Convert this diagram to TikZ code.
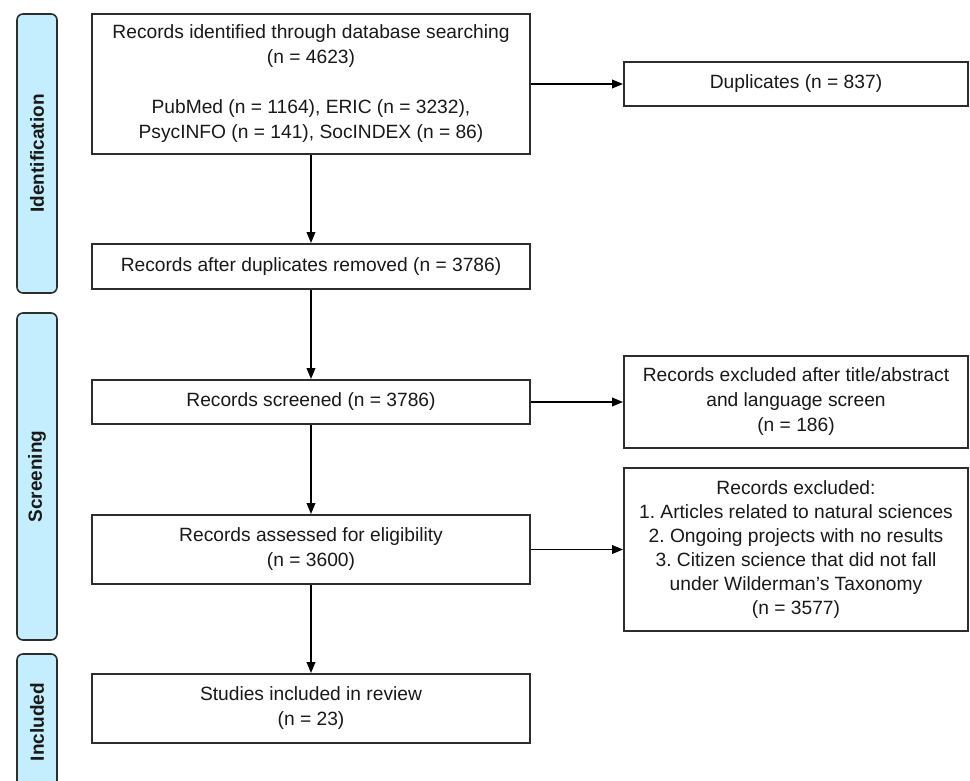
\documentclass[tikz,border=0pt]{standalone}
\usepackage{fontspec}
\setmainfont{Liberation Sans}
\usetikzlibrary{arrows.meta}
\frenchspacing
\definecolor{barfill}{RGB}{196,238,253}
\definecolor{boxline}{RGB}{45,45,45}
\definecolor{txt}{RGB}{25,25,25}
\tikzset{
  flowbox/.style={draw=boxline, line width=1.8pt, fill=white, align=center, text=txt,
    font=\fontsize{19.2}{25}\selectfont, inner sep=0pt, anchor=center},
  phasebar/.style={draw=boxline, line width=1.6pt, fill=barfill, rounded corners=6pt},
  phaselabel/.style={rotate=90, font=\fontsize{19}{22}\selectfont\bfseries, text=txt},
  arr/.style={draw=black, line width=1.9pt, -{Triangle[length=11pt,width=8.5pt]}}
}
\begin{document}
\begin{tikzpicture}[x=1pt,y=-1pt]
\clip (0,0) rectangle (970,780);
\fill[white] (0,0) rectangle (970,780);
% phase bars
\draw[phasebar] (17,14) rectangle (57,293);
\node[phaselabel] (lid) at (37,153.5) {Identification};
\draw[phasebar] (17,313) rectangle (57,640);
\node[phaselabel] (lscr) at (37,476.5) {Screening};
\draw[phasebar] (17,654) rectangle (57,792);
\node[phaselabel] (linc) at (37,722) {Included};
% boxes
\node[flowbox, minimum width=438pt, minimum height=140pt] (id) at (311,84)
  {Records identified through database searching\\(n = 4623)\\[25pt]PubMed (n = 1164), ERIC (n = 3232),\\PsycINFO (n = 141), SocINDEX (n = 86)};
\node[flowbox, minimum width=344pt, minimum height=44pt] (dup) at (796,84) {Duplicates (n = 837)};
\node[flowbox, minimum width=438pt, minimum height=45pt] (after) at (311,266.5) {Records after duplicates removed (n = 3786)};
\node[flowbox, minimum width=438pt, minimum height=44pt] (scr) at (311,402) {Records screened (n = 3786)};
\node[flowbox, minimum width=344pt, minimum height=92pt] (ex1) at (796,402)
  {Records excluded after title/abstract\\and language screen\\(n = 186)};
\node[flowbox, minimum width=438pt, minimum height=69pt] (elig) at (311,549.5)
  {Records assessed for eligibility\\(n = 3600)};
\node[flowbox, minimum width=344pt, minimum height=163pt, font=\fontsize{19.2}{24}\selectfont] (ex2) at (796,549.5)
  {Records excluded:\\1. Articles related to natural sciences\\2. Ongoing projects with no results\\3. Citizen science that did not fall\\under Wilderman’s Taxonomy\\(n = 3577)};
\node[flowbox, minimum width=438pt, minimum height=69pt] (inc) at (311,708.5)
  {Studies included in review\\(n = 23)};
% connectors
\draw[arr] (id.south) -- (after.north);
\draw[arr] (id.east) -- (dup.west);
\draw[arr] (after.south) -- (scr.north);
\draw[arr] (scr.east) -- (ex1.west);
\draw[arr] (scr.south) -- (elig.north);
\draw[arr] (elig.east) -- (ex2.west);
\draw[arr] (elig.south) -- (inc.north);
\end{tikzpicture}
\end{document}
